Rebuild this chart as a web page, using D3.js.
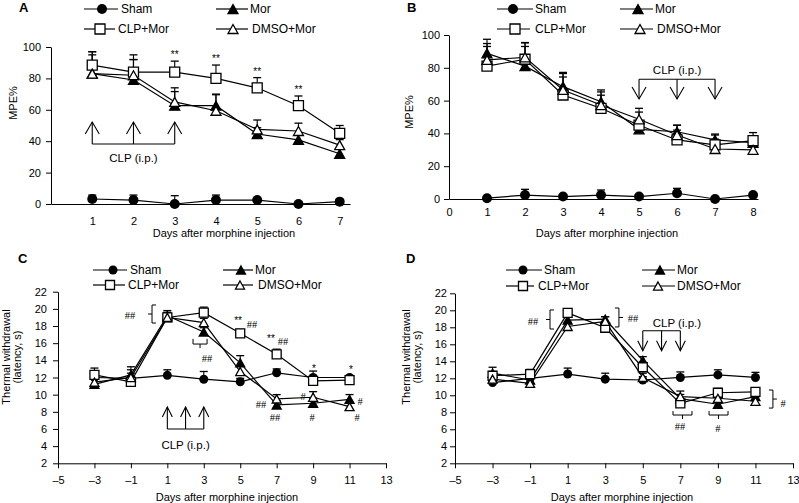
<!DOCTYPE html>
<html>
<head>
<meta charset="utf-8">
<script src="https://cdn.jsdelivr.net/npm/d3@7"></script>
<style>
body { margin: 0; background: #fff; }
svg { display: block; font-family: "Liberation Sans", Arial, sans-serif; }
svg text { fill: #000; }
</style>
</head>
<body>
<svg id="chart" width="799" height="503"></svg>
<script>
// group names, in legend order
var seriesNames = ['Sham', 'Mor', 'CLP+Mor', 'DMSO+Mor'];
var seriesShapes = ['circle', 'triFilled', 'square', 'triOpen'];

// ---- panel A (MPE%, CLP given days 1-3)
var daysA = [1, 2, 3, 4, 5, 6, 7];
var shamA = [3.2, 2.5, 0, 2.5, 2.5, 0, 1.5];
var shamErrA = [2.5, 3.2, 5.3, 3.2, 1, 0, 1.5];
var morA = [83, 79, 62.6, 62.6, 44.6, 40.8, 32];
var morErrA = [14, 13, 9, 7, 4, 3, 3];
var clpA = [88.5, 84, 84, 80, 74, 62.6, 45];
var clpErrA = [8.5, 11, 7, 8.5, 6.5, 6.2, 5];
var dmsoA = [83, 82, 65, 59.4, 47.5, 46.5, 37.5];
var dmsoErrA = [12, 10, 9, 10.6, 6, 5, 3.5];
var starDaysA = [3, 4, 5, 6];

// ---- panel B (MPE%, CLP given days 5-7)
var daysB = [1, 2, 3, 4, 5, 6, 7, 8];
var shamB = [0.5, 2.4, 1.5, 2.4, 1.5, 3.5, 0, 2.4];
var shamErrB = [0, 3.5, 0, 3.1, 1, 3, 0, 1.1];
var morB = [88.8, 81, 68.5, 59.3, 42.5, 41, 36, 34.3];
var morErrB = [8.6, 12, 8.7, 7.2, 5, 4, 3.6, 3];
var clpB = [81, 85.2, 63.4, 55.3, 45, 36, 33, 35.6];
var clpErrB = [12, 10, 11, 8, 8, 6, 6, 4.9];
var dmsoB = [84.8, 86.4, 66.5, 57.3, 48.6, 39, 30.5, 30];
var dmsoErrB = [10, 9, 10, 8, 6.7, 6, 6, 6];

// ---- panel C (thermal withdrawal latency, CLP days 1-3)
var daysCD = [-3, -1, 1, 3, 5, 7, 9, 11];
var shamC = [12.0, 11.9, 12.25, 11.8, 11.5, 12.55, 12.0, 12.0];
var shamErrC = [0.5, 0.6, 0.65, 0.9, 0.4, 0.45, 0.75, 0.2];
var morC = [11.2, 12.3, 19.2, 17.3, 13.7, 8.8, 9.0, 9.46];
var morErrC = [0.6, 0.95, 0.6, 0.5, 0.85, 0.5, 0.6, 0.55];
var clpC = [12.3, 11.5, 19.0, 19.55, 17.15, 14.7, 11.6, 11.7];
var clpErrC = [0.8, 0.7, 0.6, 0.65, 0.45, 0.6, 0.4, 0.3];
var dmsoC = [11.45, 12.0, 19.0, 18.4, 12.7, 9.5, 9.7, 8.6];
var dmsoErrC = [0.6, 0.9, 0.5, 0.5, 0.6, 0.5, 0.65, 0.4];

// ---- panel D (thermal withdrawal latency, CLP days 5-7)
var shamD = [11.5, 12.0, 12.5, 11.9, 11.8, 12.1, 12.4, 12.1];
var shamErrD = [0.7, 0.6, 0.7, 0.7, 0.4, 0.65, 0.6, 0.6];
var morD = [12.6, 11.8, 18.85, 18.95, 14.1, 9.6, 8.95, 9.85];
var morErrD = [0.7, 0.5, 0.5, 0.3, 0.45, 0.5, 0.4, 0.4];
var clpD = [12.3, 12.5, 19.7, 17.95, 13.3, 9.05, 10.3, 10.4];
var clpErrD = [0.5, 0.55, 0.3, 0.5, 0.6, 0.6, 0.5, 0.5];
var dmsoD = [11.9, 11.4, 18.1, 18.7, 12.1, 9.85, 9.65, 9.3];
var dmsoErrD = [0.6, 0.5, 0.5, 0.55, 0.5, 0.65, 0.5, 0.5];

// tick labels
var yTicksMPE = [0, 20, 40, 60, 80, 100];
var yTicksLat = [2, 4, 6, 8, 10, 12, 14, 16, 18, 20, 22];
var xTicksA = [1, 2, 3, 4, 5, 6, 7];
var xTicksB = [0, 1, 2, 3, 4, 5, 6, 7, 8];
var xTicksCD = [-5, -3, -1, 1, 3, 5, 7, 9, 11, 13];

// CLP injection days
var clpDaysEarly = [1, 2, 3];
var clpDaysLate = [5, 6, 7];

var svg = d3.select('#chart');

var fmtDay = function(d){
    return d < 0 ? '\u2013' + Math.abs(d) : String(d);
};

var markerPath = function(shape, s){
    var h = s / 2;
    if(shape === 'square'){
        return 'M' + (-h) + ',' + (-h) + 'H' + h + 'V' + h + 'H' + (-h) + 'Z';
    }
    var th = s * 0.9;
    return 'M0,' + (-th / 2) + 'L' + h + ',' + (th / 2) + 'L' + (-h) + ',' + (th / 2) + 'Z';
};

var drawMarker = function(g, shape, cx, cy, s){
    if(shape === 'circle'){
        g.append('circle').attr('cx', cx).attr('cy', cy).attr('r', s / 2)
            .attr('fill', '#000');
        return;
    }
    g.append('path').attr('d', markerPath(shape, s))
        .attr('transform', 'translate(' + cx + ',' + cy + ')')
        .attr('fill', shape === 'triFilled' ? '#000' : '#fff')
        .attr('stroke', '#000').attr('stroke-width', 1.3);
};

var drawPanel = function(cfg){
    var g = svg.append('g');
    var x = d3.scaleLinear().domain(cfg.xDomain).range(cfg.xRange);
    var y = d3.scaleLinear().domain(cfg.yDomain).range(cfg.yRange);

    // axes
    var yAxis = d3.axisLeft(y).tickValues(cfg.yTicks).tickSize(5)
        .tickSizeOuter(0).tickPadding(cfg.yPad);
    g.append('g').attr('transform', 'translate(' + cfg.xRange[0] + ',0)')
        .call(yAxis)
        .attr('font-size', 11).attr('font-family', null);

    var xAxis = d3.axisBottom(x).tickValues(cfg.xTicks).tickSize(cfg.xTickSize)
        .tickSizeOuter(0).tickPadding(cfg.xPad).tickFormat(fmtDay);
    g.append('g').attr('transform', 'translate(0,' + cfg.yRange[0] + ')')
        .call(xAxis)
        .attr('font-size', 11).attr('font-family', null);

    // axis titles
    g.append('text').attr('x', cfg.xTitle[0]).attr('y', cfg.xTitle[1])
        .attr('text-anchor', 'middle').attr('font-size', 11)
        .text('Days after morphine injection');
    cfg.yTitle.forEach(function(t){
        g.append('text')
            .attr('transform', 'translate(' + t.x + ',' + t.y + ') rotate(-90)')
            .attr('text-anchor', 'middle').attr('dy', '0.35em').attr('font-size', 11)
            .text(t.text);
    });

    // panel letter
    g.append('text').attr('x', cfg.letterPos[0]).attr('y', cfg.letterPos[1])
        .attr('font-size', 13).attr('font-weight', 'bold').text(cfg.letter);

    var series = cfg.series;
    var days = cfg.days;

    // upper error bars
    series.forEach(function(s){
        s.vals.forEach(function(v, i){
            var e = s.errs[i];
            if(!e){ return; }
            var px = x(days[i]);
            g.append('line').attr('x1', px).attr('x2', px)
                .attr('y1', y(v)).attr('y2', y(v + e))
                .attr('stroke', '#000').attr('stroke-width', 1.1);
            g.append('line').attr('x1', px - 4).attr('x2', px + 4)
                .attr('y1', y(v + e)).attr('y2', y(v + e))
                .attr('stroke', '#000').attr('stroke-width', 1.3);
        });
    });

    // lines
    var line = d3.line().x(function(d){ return x(d[0]); }).y(function(d){ return y(d[1]); });
    series.forEach(function(s){
        g.append('path').datum(days.map(function(d, i){ return [d, s.vals[i]]; }))
            .attr('d', line).attr('fill', 'none')
            .attr('stroke', '#000').attr('stroke-width', 1.2);
    });

    // markers
    series.forEach(function(s, k){
        s.vals.forEach(function(v, i){
            drawMarker(g, seriesShapes[k], x(days[i]), y(v), cfg.markerSize);
        });
    });

    // legend
    cfg.legend.forEach(function(L, k){
        g.append('line').attr('x1', L[0]).attr('x2', L[1]).attr('y1', L[4]).attr('y2', L[4])
            .attr('stroke', '#000').attr('stroke-width', 1.2);
        drawMarker(g, seriesShapes[k], L[2], L[4], cfg.markerSize);
        g.append('text').attr('x', L[3]).attr('y', L[4]).attr('dy', '0.36em')
            .attr('font-size', 12).text(seriesNames[k]);
    });

    // CLP (i.p.) arrows
    var ar = cfg.arrows;
    var ax = ar.days.map(function(d){ return x(d); });
    var yBase = y(ar.base), yTip = y(ar.tip);
    var dir = yTip < yBase ? 1 : -1;
    g.append('line').attr('x1', ax[0]).attr('x2', ax[ax.length - 1])
        .attr('y1', yBase).attr('y2', yBase).attr('stroke', '#000').attr('stroke-width', 1.1);
    ax.forEach(function(px){
        g.append('line').attr('x1', px).attr('x2', px).attr('y1', yBase).attr('y2', yTip)
            .attr('stroke', '#000').attr('stroke-width', 1.1);
        g.append('path')
            .attr('d', 'M' + (px - ar.head[0]) + ',' + (yTip + dir * ar.head[1]) +
                'L' + px + ',' + yTip + 'L' + (px + ar.head[0]) + ',' + (yTip + dir * ar.head[1]))
            .attr('fill', 'none').attr('stroke', '#000').attr('stroke-width', 1.1);
    });
    g.append('text').attr('x', x(ar.textAt[0])).attr('y', y(ar.textAt[1])).attr('dy', '0.36em')
        .attr('text-anchor', 'middle').attr('font-size', 11.5).text('CLP (i.p.)');

    // significance marks
    (cfg.marks || []).forEach(function(m){
        g.append('text').attr('x', x(m[1])).attr('y', y(m[2])).attr('dy', '0.36em')
            .attr('text-anchor', 'middle')
            .attr('font-family', m[0].charAt(0) === '#' ? '"Liberation Serif", serif' : null)
            .attr('font-size', m[0].charAt(0) === '#' ? 10.5 : 10)
            .text(m[0]);
    });

    // brackets: [type, xa, xb, ya, yb]
    (cfg.brackets || []).forEach(function(b){
        var d;
        var x1 = x(b[1]), x2 = x(b[2]), y1 = y(b[3]), y2 = y(b[4]);
        var xm = (x1 + x2) / 2, ym = (y1 + y2) / 2;
        if(b[0] === 'left'){
            d = 'M' + (x1 + 4) + ',' + y1 + 'H' + x1 + 'V' + y2 + 'H' + (x1 + 4) +
                'M' + x1 + ',' + ym + 'H' + (x1 - 4);
        } else if(b[0] === 'right'){
            d = 'M' + (x1 - 4) + ',' + y1 + 'H' + x1 + 'V' + y2 + 'H' + (x1 - 4) +
                'M' + x1 + ',' + ym + 'H' + (x1 + 4);
        } else {
            d = 'M' + x1 + ',' + (y1) + 'V' + y2 + 'H' + x2 + 'V' + y1 +
                'M' + xm + ',' + y2 + 'V' + (y2 + 4);
        }
        g.append('path').attr('d', d).attr('fill', 'none')
            .attr('stroke', '#000').attr('stroke-width', 1);
    });

    return {x: x, y: y, g: g};
};

// panel A
var pA = drawPanel({
    letter: 'A', letterPos: [19, 12],
    days: daysA,
    xDomain: [0, 7.25], xRange: [51, 350],
    yDomain: [0, 100], yRange: [204, 47],
    yTicks: yTicksMPE, xTicks: xTicksA, xTickSize: 0, xPad: 13, yPad: 5,
    xTitle: [224, 237],
    yTitle: [{text: 'MPE%', x: 13, y: 103}],
    markerSize: 10,
    series: [
        {vals: shamA, errs: shamErrA},
        {vals: morA, errs: morErrA},
        {vals: clpA, errs: clpErrA},
        {vals: dmsoA, errs: dmsoErrA}
    ],
    legend: [[84, 118, 102, 121, 9], [216, 248, 233, 250, 9],
             [84, 115, 100, 118, 29], [216, 248, 233, 252, 29]],
    arrows: {days: clpDaysEarly, base: 38.2, tip: 52.2, head: [7, 12], textAt: [2, 29.3]}
});
starDaysA.forEach(function(d){
    var i = daysA.indexOf(d);
    pA.g.append('text').attr('x', pA.x(d)).attr('y', pA.y(clpA[i] + clpErrA[i]) - 3)
        .attr('text-anchor', 'middle').attr('font-size', 10).text('**');
});

// panel B
drawPanel({
    letter: 'B', letterPos: [407, 12],
    days: daysB,
    xDomain: [0, 8.13], xRange: [449, 758],
    yDomain: [0, 100], yRange: [199, 35],
    yTicks: yTicksMPE, xTicks: xTicksB, xTickSize: 0, xPad: 9, yPad: 4,
    xTitle: [607, 237],
    yTitle: [{text: 'MPE%', x: 409, y: 112}],
    markerSize: 10,
    series: [
        {vals: shamB, errs: shamErrB},
        {vals: morB, errs: morErrB},
        {vals: clpB, errs: clpErrB},
        {vals: dmsoB, errs: dmsoErrB}
    ],
    legend: [[497, 533, 513, 535, 9], [620, 653, 638, 655, 9],
             [497, 530, 515, 535, 29], [620, 653, 640, 657, 29]],
    arrows: {days: clpDaysLate, base: 73, tip: 61, head: [7, 12], textAt: [6, 78.7]}
});

// panel C
drawPanel({
    letter: 'C', letterPos: [18, 263],
    days: daysCD,
    xDomain: [-5, 13], xRange: [58, 386],
    yDomain: [2, 22], yRange: [463.3, 291.7],
    yTicks: yTicksLat, xTicks: xTicksCD, xTickSize: 5, xPad: 8, yPad: 6,
    xTitle: [227, 501],
    yTitle: [{text: 'Thermal withdrawal', x: 6, y: 357}, {text: '(latency, s)', x: 17, y: 357}],
    markerSize: 9,
    series: [
        {vals: shamC, errs: shamErrC},
        {vals: morC, errs: morErrC},
        {vals: clpC, errs: clpErrC},
        {vals: dmsoC, errs: dmsoErrC}
    ],
    legend: [[93, 127, 113, 130, 270], [223, 253, 241, 255, 270],
             [93, 125, 110, 128, 285], [223, 253, 240, 258, 285]],
    arrows: {days: clpDaysEarly, base: 6.0, tip: 8.56, head: [5, 10], textAt: [2, 4.13]},
    marks: [['##', -1.05, 19.3], ['##', 3.18, 14.27],
            ['**', 4.88, 18.7], ['##', 5.65, 18.24],
            ['**', 6.69, 16.6], ['##', 7.35, 16.25],
            ['*', 9.05, 13.1], ['*', 11.08, 12.9],
            ['#', 8.45, 9.84], ['##', 6.14, 8.91], ['##', 6.91, 7.4],
            ['#', 8.94, 7.4], ['#', 11.58, 9.26], ['#', 11.41, 7.4]],
    brackets: [['left', 0.16, 0.16, 20.45, 18.35], ['under', 2.41, 3.18, 16.5, 15.9]]
});

// panel D
drawPanel({
    letter: 'D', letterPos: [406, 263],
    days: daysCD,
    xDomain: [-5, 13], xRange: [455, 793],
    yDomain: [2, 22], yRange: [463.3, 293.3],
    yTicks: yTicksLat, xTicks: xTicksCD, xTickSize: 5, xPad: 8, yPad: 3,
    xTitle: [622, 501],
    yTitle: [{text: 'Thermal withdrawal', x: 406, y: 357}, {text: '(latency, s)', x: 417, y: 357}],
    markerSize: 9,
    series: [
        {vals: shamD, errs: shamErrD},
        {vals: morD, errs: morErrD},
        {vals: clpD, errs: clpErrD},
        {vals: dmsoD, errs: dmsoErrD}
    ],
    legend: [[506, 542, 523, 544, 270], [642, 675, 660, 677, 270],
             [506, 534, 523, 538, 286], [642, 675, 658, 677, 286]],
    arrows: {days: clpDaysLate, base: 17.6, tip: 15.25, head: [5, 10], textAt: [6.82, 18.5]},
    marks: [['##', -0.85, 18.74], ['##', 4.48, 19.1],
            ['##', 6.98, 6.39], ['#', 9.0, 6.15], ['#', 12.47, 9.1]],
    brackets: [['left', 0.06, 0.06, 20.04, 17.8], ['right', 3.73, 3.73, 20.27, 18.04],
               ['under', 6.61, 7.62, 8.15, 7.68], ['under', 8.53, 9.54, 8.15, 7.68],
               ['right', 11.93, 11.93, 10.62, 8.5]]
});
</script>
</body>
</html>
